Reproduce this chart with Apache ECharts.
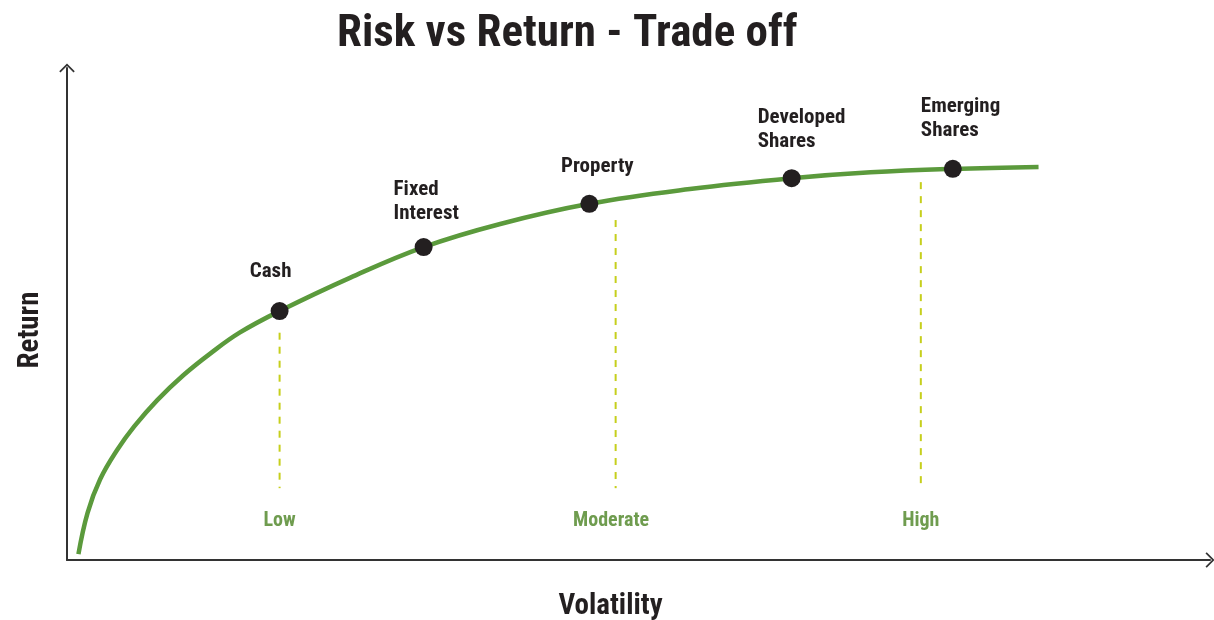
<!DOCTYPE html>
<html>
<head>
<meta charset="utf-8">
<title>Risk vs Return - Trade off</title>
<script src="https://cdn.jsdelivr.net/npm/echarts@6/dist/echarts.min.js"></script>
<style>
  html, body { margin: 0; padding: 0; background: #fff; }
  #chart { width: 1214px; height: 620px; }
</style>
</head>
<body>
<div id="chart"></div>
<script>
  // trade-off curve (volatility 0-100, return 0-100)
  var curveX = [1, 1.8, 2.9, 4.4, 5.9, 7.9, 10.2, 12.5, 15.1, 18.6, 24.8, 31.2, 37.9, 45.7, 54.5, 63.4, 70.3, 77.5, 85];
  var curveY = [1.2, 9.6, 16.4, 22.4, 27.2, 32.5, 37.6, 41.9, 46.2, 50.6, 57.4, 63.6, 68.3, 72.4, 75.4, 77.6, 78.8, 79.5, 79.9];

  // asset classes on the curve
  var assetNames = ['Cash', 'Fixed\nInterest', 'Property', 'Developed\nShares', 'Emerging\nShares'];
  var assetX = [18.6, 31.2, 45.7, 63.4, 77.5];
  var assetY = [50.6, 63.6, 72.4, 77.6, 79.5];

  // risk levels (dashed guides + labels)
  var riskNames = ['Low', 'Moderate', 'High'];
  var riskX = [18.6, 48.0, 74.7];
  var riskTop = [46.2, 69.1, 76.8];
  var riskBottom = 14.6;
  var riskLabelX = [18.6, 47.6, 74.7];
  var riskLabelY = 7.9;

  var FONT = "'Roboto Condensed', 'Liberation Sans Narrow', 'Roboto', sans-serif";
  var GREEN = '#5b9a3c';
  var DASH = '#c6cf1c';
  var LABEL_GREEN = '#6f9c4f';
  var INK = '#231f20';

  // label placement per asset: [dx, distance, align]
  var assetLabelPos = [
    [-9, 18, 'center'],
    [-30, 12, 'left'],
    [8, 16, 'center'],
    [-34, 15, 'left'],
    [-32, 17, 'left']
  ];

  var arrow = 'path://M0,10 L10,0 L20,10 L18.4,11.6 L10,3.2 L1.6,11.6 Z';

  var chart = echarts.init(document.getElementById('chart'));

  var series = [];

  // dashed risk guides
  riskX.forEach(function (x, i) {
    series.push({
      type: 'line',
      silent: true,
      showSymbol: false,
      data: [[x, riskTop[i]], [x, riskBottom]],
      lineStyle: { color: DASH, width: 2, type: [7, 7] },
      z: 1
    });
  });

  series.push({
    name: 'Trade off',
    type: 'line',
    smooth: 0.4,
    showSymbol: false,
    silent: true,
    data: curveX.map(function (x, i) { return [x, curveY[i]]; }),
    lineStyle: { color: GREEN, width: 4.5, cap: 'butt' },
    z: 2
  });

  series.push({
    name: 'Assets',
    type: 'scatter',
    symbolSize: 18,
    silent: true,
    itemStyle: { color: INK, opacity: 1 },
    z: 3,
    data: assetNames.map(function (n, i) {
      var p = assetLabelPos[i];
      return {
        value: [assetX[i], assetY[i]],
        label: {
          show: true,
          formatter: n,
          position: 'top',
          distance: p[1],
          align: p[2],
          offset: [p[0], 0],
          color: INK,
          fontFamily: FONT,
          fontWeight: 'bold',
          fontSize: 21,
          lineHeight: 24
        }
      };
    })
  });

  series.push({
    name: 'Risk',
    type: 'scatter',
    symbolSize: 1,
    silent: true,
    itemStyle: { color: 'rgba(0,0,0,0)', opacity: 1 },
    data: riskNames.map(function (n, i) {
      return {
        value: [riskLabelX[i], riskLabelY],
        label: {
          show: true,
          formatter: n,
          position: 'inside',
          color: LABEL_GREEN,
          fontFamily: FONT,
          fontWeight: 'bold',
          fontSize: 20
        }
      };
    })
  });

  chart.setOption({
    animation: false,
    backgroundColor: '#fff',
    title: {
      text: 'Risk vs Return - Trade off',
      left: 332,
      top: 7,
      textStyle: { fontFamily: FONT, fontWeight: 'bold', fontSize: 45, color: INK }
    },
    grid: { left: 67, right: 4, top: 68, bottom: 60, outerBoundsMode: 'none', containLabel: false },
    xAxis: {
      type: 'value',
      min: 0,
      max: 100,
      name: 'Volatility',
      nameLocation: 'middle',
      nameGap: 32,
      nameTextStyle: {
        fontFamily: FONT, fontWeight: 'bold', fontSize: 29, color: INK,
        padding: [0, 56, 0, 0]
      },
      axisLine: {
        lineStyle: { color: '#333', width: 2 },
        symbol: ['none', arrow],
        symbolSize: [16, 9]
      },
      axisTick: { show: false },
      axisLabel: { show: false },
      splitLine: { show: false }
    },
    yAxis: {
      type: 'value',
      min: 0,
      max: 100,
      name: 'Return',
      nameLocation: 'middle',
      nameGap: 22,
      nameTextStyle: {
        fontFamily: FONT, fontWeight: 'bold', fontSize: 29, color: INK,
        padding: [0, 32, 0, 0]
      },
      axisLine: {
        lineStyle: { color: '#333', width: 2 },
        symbol: ['none', arrow],
        symbolSize: [16, 9]
      },
      axisTick: { show: false },
      axisLabel: { show: false },
      splitLine: { show: false }
    },
    series: series
  });
</script>
</body>
</html>
